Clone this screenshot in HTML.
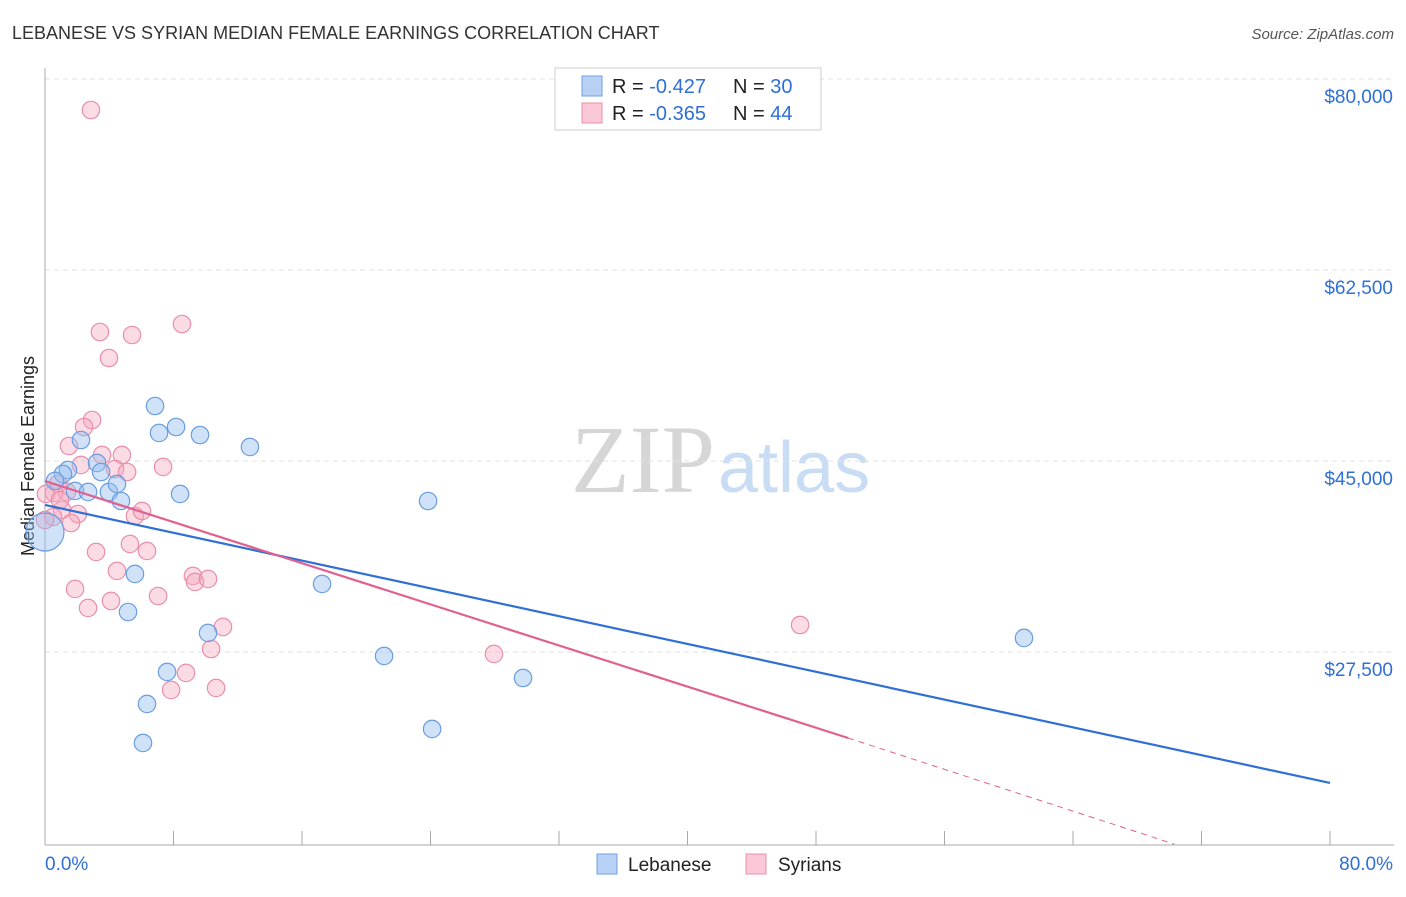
<!DOCTYPE html>
<html><head><meta charset="utf-8"><style>
body{margin:0;background:#fff;font-family:"Liberation Sans",sans-serif}
svg text{font-family:"Liberation Sans",sans-serif}
</style></head><body>
<svg id="c" width="1406" height="892">
<text x="12" y="39" font-size="18" fill="#333">LEBANESE VS SYRIAN MEDIAN FEMALE EARNINGS CORRELATION CHART</text>
<text x="1394" y="39" font-size="15" fill="#555" text-anchor="end" font-style="italic">Source: ZipAtlas.com</text>
<text x="715" y="492" font-size="96" fill="#d6d6d6" text-anchor="end" style="font-family:'Liberation Serif',serif">ZIP</text>
<text x="718" y="492" font-size="72" fill="#c8dcf4">atlas</text>
<text transform="translate(34,456) rotate(-90)" font-size="18" fill="#222" text-anchor="middle">Median Female Earnings</text>
<g id="grid"></g><g id="axes"></g><g id="pts"></g><g id="lines"></g>
<g>
<rect x="555" y="68" width="266" height="62" fill="#fff" stroke="#ccc"/>
<rect x="582" y="76" width="20" height="20" fill="#b8d2f6" stroke="#6f9fe0"/>
<rect x="582" y="103" width="20" height="20" fill="#fac8d6" stroke="#e890a8"/>
<text x="612" y="93" font-size="20" fill="#222">R = <tspan fill="#2f6fd6">-0.427</tspan><tspan x="733">N = </tspan><tspan fill="#2f6fd6">30</tspan></text>
<text x="612" y="120" font-size="20" fill="#222">R = <tspan fill="#2f6fd6">-0.365</tspan><tspan x="733">N = </tspan><tspan fill="#2f6fd6">44</tspan></text>
</g>
<g>
<rect x="597" y="854" width="20" height="20" fill="#b8d2f6" stroke="#6f9fe0"/>
<text x="628" y="871" font-size="19" fill="#222">Lebanese</text>
<rect x="746" y="854" width="20" height="20" fill="#fac8d6" stroke="#e890a8"/>
<text x="778" y="871" font-size="19" fill="#222">Syrians</text>
</g>
</svg>
<script>
const yTicks=[80000,62500,45000,27500];
const yTickLabels=["$80,000","$62,500","$45,000","$27,500"];
const xTickLabels=["0.0%","80.0%"];
const lebX=[6.85,7.10,8.16,9.65,12.76,2.24,1.43,3.24,3.49,1.12,0.62,1.87,2.68,3.98,4.48,4.73,8.41,23.85,5.60,5.17,17.25,10.15,7.60,21.11,29.76,6.35,24.10,6.10,60.95,0];
const lebY=[50040,47567,48116,47383,46284,46925,44176,44818,43993,43810,43169,42253,42161,42161,42894,41336,41978,41336,34648,31166,33732,29243,25670,27135,25119,22738,20447,19164,28784,38496];
const syrX=[2.86,3.42,5.42,8.53,3.98,2.93,2.43,1.49,3.55,4.79,2.24,4.36,5.11,7.35,0.81,1.37,0.56,0.06,1.06,2.05,0.50,1.62,5.60,6.04,5.29,3.18,6.35,4.48,9.21,9.34,10.15,1.87,7.04,4.11,2.68,11.08,10.34,47.01,27.95,8.78,7.85,10.65,0.93,0];
const syrY=[77160,56820,56545,57553,54437,48757,48116,46375,45551,45551,44635,44268,43993,44452,42894,42161,42070,41978,40512,40145,39870,39320,39962,40420,37397,36664,36756,34923,34465,33915,34190,33274,32632,32174,31533,29792,27776,29975,27318,25578,24021,24204,41427,39595];
const lebTrend=[[0,40970],[80,15500]];
const syrTrend=[[0,43168],[50,19620]];
const syrTrendExt=[[50,19620],[70.3,9900]];
const X=v=>45+v/80*1285, Y=v=>79+(80000-v)*191/17500;
const NS="http://www.w3.org/2000/svg";
function mk(t,a,p){const e=document.createElementNS(NS,t);for(const k in a)e.setAttribute(k,a[k]);document.getElementById(p).appendChild(e);return e;}
yTicks.forEach((v,i)=>{
 const l=mk('line',{x1:45,x2:1394,y1:Y(v),y2:Y(v),stroke:'#e2e2e2','stroke-dasharray':'5,4'},'grid');
 
 
 const t=mk('text',{x:1393,y:Y(v)+24,'font-size':19,fill:'#2f6fd6','text-anchor':'end'},'axes');t.textContent=yTickLabels[i];
 
 
});
const ya=mk('line',{x1:45,x2:45,y1:68,y2:845,stroke:'#aaa'},'axes');


const xa=mk('line',{x1:45,x2:1394,y1:845,y2:845,stroke:'#aaa'},'axes');


for(let i=0;i<=10;i++){const t=mk('line',{x1:X(i*8),x2:X(i*8),y1:831,y2:845,stroke:'#aaa'},'axes');
 
 }
[[0,'start',45],[80,'end',1393]].forEach((d,i)=>{const t=mk('text',{x:d[2],y:870,'font-size':19,fill:'#2f6fd6','text-anchor':d[1]},'axes');t.textContent=xTickLabels[i];
 
 });
function pts(xs,ys,fill,stroke,name){xs.forEach((x,i)=>{const big=(name==='lebanese-point'&&x===0);
 const c=mk('circle',{cx:X(x),cy:Y(ys[i]),r:big?19:8.7,fill:fill,stroke:stroke,'stroke-width':1.2},'pts');
 
 });}
pts(syrX,syrY,'rgba(245,165,188,0.4)','#e98fab','syrian-point');
pts(lebX,lebY,'rgba(150,190,240,0.45)','#6a9de0','lebanese-point');
function ln(p,col,name,dash){const l=mk('line',{x1:X(p[0][0]),y1:Y(p[0][1]),x2:X(p[1][0]),y2:Y(p[1][1]),stroke:col,'stroke-width':dash?1:2.2},'lines');
 if(dash)l.setAttribute('stroke-dasharray','6,5');
 
 }
ln(lebTrend,'#2f6fd6','lebanese-trendline');
ln(syrTrend,'#e0608f','syrian-trendline');
ln(syrTrendExt,'#e0608f','syrian-trendline-extension',true);
</script>
</body></html>
